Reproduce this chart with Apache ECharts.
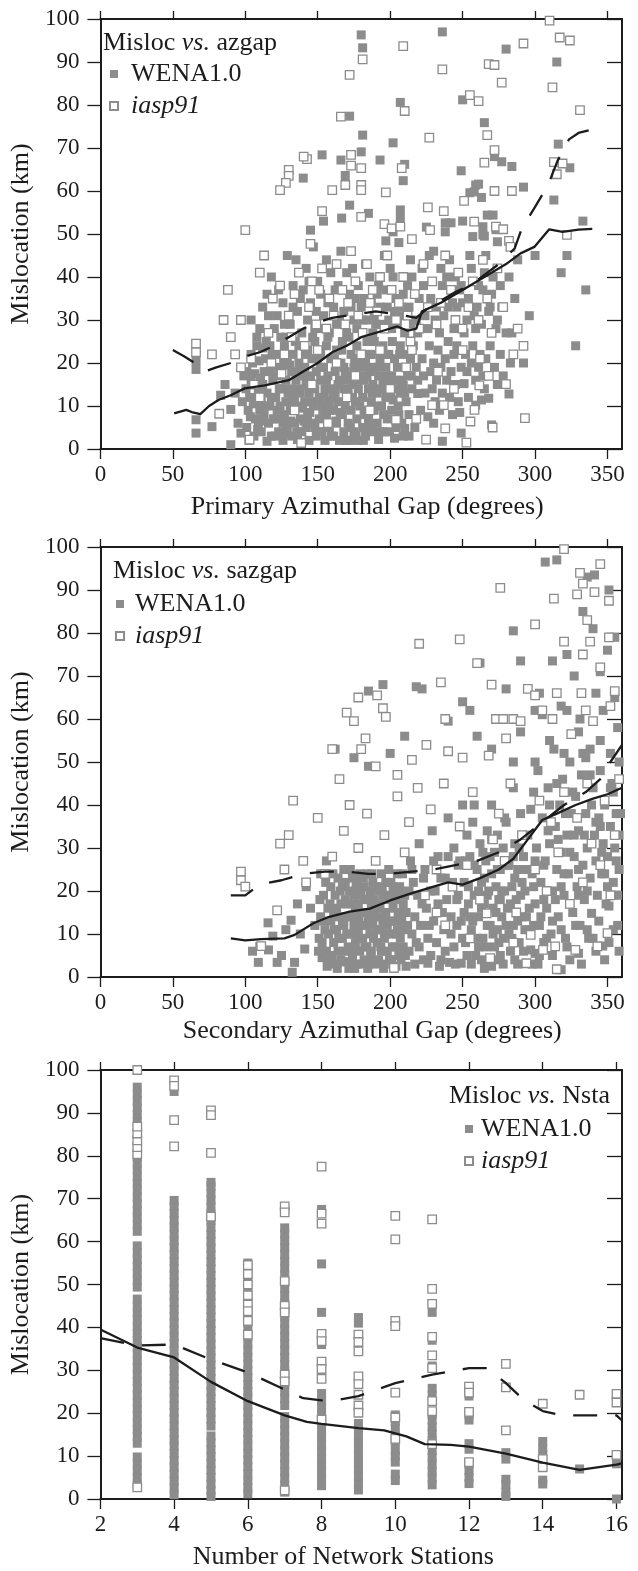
<!DOCTYPE html>
<html>
<head>
<meta charset="utf-8">
<script src="https://cdn.jsdelivr.net/npm/echarts@6/dist/echarts.min.js"></script>
<style>
html,body{margin:0;padding:0;background:#fff}
#chart{width:638px;height:1571px}
</style>
</head>
<body>
<div id="chart"></div>
<script>
// ---------- Panel 1: mislocation vs. primary azimuthal gap ----------
const azWena = [
 [180,96.3],[181,93.3],[236,97],[280,93],[315,90],[207,80.6],[250,81.2],[172,77.4],[181,73],[202,71.2],[265,75.9],[316,70.9],
 [272,68],[277,66.8],[284,65.7],[249,64.7],[292,60.9],[259,61.4],[261,61.6],[255,59.6],[258,59.8],[263,58.5],[193,67.2],[210,66.2],
 [209,62.4],[180,69.1],[166,67.2],[169,63.6],[153,68.4],[140,63],[172,56.7],[154,53],[166.5,53.7],[185,54.8],[207,55.6],[207,53.7],
 [202,50.5],[197,48.4],[225,51.6],[238,52.6],[242,52.6],[238,50.5],[250,53],[264,51.7],[264,49.8],[273,51],[267,54.4],[271,54.4],
 [257,49.4],[265,49.5],[274,48.2],[145,50.9],[324,65.4],[313,57.9],[333,53],[328,24],[335,37],[322,45],[318,41],[300,45],
 [104,30],[108,26],[112,33],[115,36],[118,40],[120,28],[122,31],[126,34],[128,26],[129,45],[131,29],[133,38],[135,44],[136,32],
 [139,27],[140,37],[142,42],[143,30],[145,34],[147,47],[148,28],[150,39],[152,36],[154,31],[156,44],[158,27],[159,41],[161,33],
 [163,29],[164,38],[166,46],[168,32],[170,27],[172,36],[174,42],[175,30],[177,28],[178,38],[180,33],[182,35],[184,30],[186,40],
 [188,27],[189,31],[191,36],[192,38],[194,29],[196,45],[198,33],[199,30],[201,28],[202,40],[204,35],[206,48],[207,31],[208,33],
 [210,27],[212,38],[214,44],[216,29],[218,30],[220,35],[222,42],[224,31],[226,28],[228,35],[230,46],[232,33],[234,27],[236,38],
 [237,31],[239,40],[241,44],[243,34],[244,28],[246,33],[248,37],[249,38],[251,27],[253,30],[254,35],[256,42],[258,31],[259,28],
 [261,38],[263,29],[264,37],[266,45],[268,32],[269,33],[271,40],[273,28],[274,30],[276,38],[280,27],[284,27],[286,35],[288,44],[296,31],
 [110,28],[116,31],[123,37],[127,29],[133,33],[138,35],[144,39],[149,32],[153,28],[157,34],[162,37],[165,30],[170,41],[173,33],
 [176,35],[181,30],[183,43],[187,34],[190,29],[193,33],[197,37],[200,42],[203,32],[205,29],[209,36],[213,33],[215,40],[219,27],
 [223,38],[227,45],[231,30],[235,42],[240,33],[245,40],[250,34],[255,45],[260,33],[265,41],[270,36],[277,33],[282,40],
 [66,6.8],[66,3.7],[66,20.5],[66,18.5],[77,5.2],[83,12.5],[90,1],[90,9.2],[97,3.7],[86,15],[93,13],[95,6],[98,11],[99,17],
 [101,5],[102,9],[103,12],[104,16],[105,20],[106,3],[107,7],[108,24],[109,13],[101,18],[104,22],[107,10.5],[109,6],
 [100.5,14],[102.5,2],[103.5,7.5],[105.5,11],[106.5,17.5],[108.5,4.5],[109.5,20.5],[110,9],
 [111,4],[111,11],[112,15],[113,18],[113,8],[114,21],[115,13],[116,6],[117,24],[117,10],[118,3],[119,16],[119,19],[112,23.5],[115,1.8],
 [110.5,16.5],[112,6.5],[114,10],[114.5,25],[116.5,18],[118,12],[119.5,7],[118.5,22],
 [121,7],[121,12],[122,17],[123,4],[123,22],[124,10],[125,14],[125,19],[126,2],[127,8],[127,24],[128,16],[128,11],[129,5],[129,20],
 [120.5,3],[122,9],[123.5,14],[124.5,26],[126,6],[126.5,21],[128,3.5],[129.5,13],
 [131,9],[131,14],[132,3],[132,18],[133,22],[134,6],[134,12],[135,16],[136,2.2],[136,10],[137,20],[137,24],[138,7],[138,13],[139,4],[139,17],
 [130.5,19.5],[131.5,6.5],[133,11],[134.5,25],[135.5,4],[136.5,14],[138,18.5],[139.5,9.5],
 [141,11],[141,19],[142,5],[142,15],[143,23],[143,8],[144,2],[144,13],[145,17],[146,21],[146,6],[147,10],[148,14],[148,25],[149,3],[149,18],
 [140.5,6.5],[141.5,22],[143,16],[144.5,8.5],[145.5,11],[146.5,26],[148,5],[149.5,21],[150,11],
 [151,7],[151,12],[152,16],[152,22],[153,4],[153,10],[154,19],[155,14],[155,2],[156,24],[156,8],[157,17],[158,5],[158,11],[159,21],[159,14],
 [150.5,4],[152,19],[153.5,8],[154.5,12],[156,16],[157,26],[158,9],[159.5,3],
 [161,3],[161,9],[162,13],[162,18],[163,23],[163,6],[164,11],[165,16],[165,2],[166,20],[167,8],[167,25],[168,14],[168,4],[169,10],[169,18],
 [160.5,12],[161.5,21],[162.5,6.5],[164,15],[165.5,8.5],[166.5,23],[168,19],[169.5,2],
 [171,6],[171,13],[172,17],[172,2],[173,22],[173,9],[174,15],[175,4],[175,19],[176,11],[177,24],[177,7],[178,14],[178,2],[179,17],[179,21],
 [170.5,16],[171.5,26],[172.5,5],[174,12],[175.5,21],[176.5,3],[177.5,16],[179,10],
 [181,5],[181,12],[182,16],[182,9],[183,20],[183,3],[184,25],[185,14],[185,7],[186,18],[187,11],[187,22],[188,4],[188,15],[189,9],[189,19],
 [180.5,19],[181.5,2],[183,8],[184,17],[185.5,22],[186.5,5],[187.5,13],[189,25],
 [191,13],[191,6],[192,2.2],[192,17],[193,21],[194,10],[195,15],[195,24],[196,4],[197,12],[197,19],[198,7],[199,16],[199,22],
 [190.5,10],[191.5,19],[193,4],[194,14],[195.5,8],[196.5,22],[198,17],[199.5,4],
 [201,9],[201,17],[202,11.4],[203,14],[203,21],[204,5],[205,19],[206,8],[207,13],[207,24],[208,16],[209,14.8],[209,3],[210,4.8],
 [200.5,13],[201.5,25],[203,2.5],[204,16],[205.5,10],[206.5,22],[208,6],[210,13],[212,22],[213,3],[214.5,17],
 [211,11],[212,17],[213,8],[214,21],[215,14],[216,24],[217,5],[218,19],[219,12.9],[219,16],
 [221,9],[222,21],[223,17],[224,13],[226,7.5],[227,24],[228,18],[229,14],[230,6],[230,20],
 [231,11],[232,16],[233,23],[234,9],[235,19],[236,1.8],[236,13],[238,21],[239,16],[240,25],
 [241,12],[242,18],[243,8],[244,22],[245,15],[246,24],[247,11],[248,8.5],[249,3.7],[249,19],
 [251,15.2],[252,22],[253,18],[254,12],[256,20],[257,24],[259,10.2],[259,16],
 [261,19],[262,22],[263,11.4],[264,17],[265,14],[266,21],[268,11.8],[269,24],[270,5.6],
 [272,19],[274,15],[276,22],[278,17],[282,12.8],[283,20],[292,20]
];
const azIasp = [
 [181,90.6],[172,87],[209,93.7],[236,88.3],[292,94.3],[310,99.6],[317,95.7],[324,95],[312,84.1],[331,78.8],[268,89.5],[272,89.3],
 [277,85.2],[255,82.3],[261,80.9],[210,78.6],[166,77.3],[227,72.4],[267,73],[313,66.7],[315,63.9],[319,66.4],[272,69.5],[265,66.6],
 [284,60],[272,60],[251,57.7],[208,65.3],[197,59.7],[173,68.4],[180,65.3],[173,65.9],[169,61.4],[180,61.4],[180,60.2],[160,60.2],
 [142.6,67.4],[140.3,68],[130,64.9],[130,63.5],[128,61.9],[124,60.2],[153,55.3],[180,54],[196,52.3],[201,51.3],[207,51.7],[215,48.8],
 [226,56.2],[227.5,50.9],[237,55.3],[258,52.9],[273,51.7],[278,51.1],[282,48.4],[145,47.7],[100,50.9],[322,49.8],
 [66,24.5],[66,22.5],[77,22],[90,26],[88,37],[85,30],[93,22],[97,30],[104,21],[110,41],[113,45],[116,27],[119,35],[124,38],
 [127,22],[130,31],[132,26],[134,36],[137,41],[141,24],[144,33],[146,39],[149,29],[151,37],[153,42],[156,28],[158,35],[161,31],
 [163,43],[167,37],[169,29],[171,34],[173,46],[176,39],[178,31],[181,27],[184,43],[186,34],[188,37],[191,32],[193,40],[196,28],
 [198,45],[201,37],[204,30],[206,34],[209,40],[212,31],[214,25],[217,36],[220,28],[223,43],[226,33],[229,39],[232,29],[235,34],
 [238,45],[242,37],[245,30],[247,41],[250,28],[254,33],[257,39],[261,30],[264,44],[267,35],[270,27],[274,42],[278,33],[283,47],
 [288,28],[292,24],
 [82,8.2],[103,2.2],[138.6,1.4],[224.8,2.2],[238,4.8],[237,10.2],[252.6,1.5],[255.4,6.4],[258.2,9.1],[261.5,14.8],[270.7,5],
 [279.9,15.1],[293,7.2],[229,10.2],[204,6.8],[110,12],[125,17.5],[134,9],[146,15],[157,6],[163,20],[170,12],[176,17],[186,9],
 [193,23],[200,14],[211,19],[218,7],[233,18],[244,14],[262,21],[268,17],[285,22],[250,23],[106,15],[118,20],[97,19],[150,23],
 [180,22],[215,23]
];
const azSolid = [[50.9,8.3],[59.3,9.1],[63,8.6],[69,8.1],[75,10],[81.5,11.4],[89.9,12.5],[99.6,14.1],[113.5,14.8],[130,16],
 [140,18],[150,20],[160,22.5],[170,24],[180,26],[195,27.5],[205,28.5],[212,27.5],[218,28],[222,32],[235,34],[250,37],[265,40],
 [280,43],[290,45.5],[299.5,47],[309.8,51.1],[319,50.5],[330,51],[339.5,51.2]];
const azDashed = [[50,23],[58,21.5],[65,20],[72,18],[80,19],[90,20],[100,21.5],[110,22.5],[120,24],[130,26],[140,28],[150,29.5],
 [160,30.5],[170,31],[180,31.5],[190,32],[200,31.5],[210,31],[218,30.5],[225,32.5],[235,34.5],[245,36.5],[255,38],[265,40.5],
 [275,43],[286,46.7],[290.5,51],[300,56.3],[309,61.4],[315.5,67],[323.4,72],[330,73.5],[339,74.3]];

// ---------- Panel 2: mislocation vs. secondary azimuthal gap ----------
const sazWena = [
 [307,96.5],[315,97],[336,93],[341,93.5],[351,90],[333,85],[340,81],[285,80.5],[290,73.5],[312,73.5],[322,75],[350,76],[355,79],
 [345,71],[262,73],[185,66.5],[195,68],[218,67.5],[222,67],[240,59.5],[250,64],[255,62],[280,67],[300,62],[305,61],[290,57],
 [310,55],[322,62],[330,57],[342,66],[355,65],[345,55],[352,52],[320,52],[335,51],[260,56],[270,53],[300,50],[285,50],[210,56],
 [200,52],[185,49],[162,53],[175,51],[303,66],[318,63],[327,70],[347,62],[357,58],[331,60],[338,53],
 [105,6],[110,7.1],[109,3.4],[115.7,12.6],[116,6.3],[122,3.4],[131.6,13.2],[132.4,1.1],[134,3.4],[141,6.5],[138,10],[145,16],
 [148,12],[142,21],[136,17],[128,11],[119,9.5],[125,5],
 [151,9],[152,14],[153,4.5],[154,19],[155,11],[156,6],[157,16],[158,4],[159,21],[159,13],[152,24],[156,27],
 [161,8],[161,15],[162,3],[162,19],[163,11],[164,23],[164,6],[165,14],[166,17],[166,4],[167,9],[167,21],[168,12],[168,25],[169,3.5],[169,18],
 [171,7],[171,14],[172,20],[172,3.5],[173,10],[173,17],[174,23],[174,5],[175,12],[175,19],[176,8],[176,15],[177,22],[177,3],[178,11],[178,17],[179,6],[179,24],
 [181,9],[181,15],[182,21],[182,4],[183,12],[183,18],[184,7],[184,24],[185,14],[185,3],[186,10],[186,20],[187,16],[187,6],[188,12],[188,22],[189,3.5],[189,18],
 [191,8],[191,14],[192,20],[192,4],[193,11],[193,17],[194,24],[194,6],[195,13],[195,19],[196,9],[196,3],[197,15],[197,22],[198,6],[198,12],[199,18],[199,25],
 [201,4],[201,10],[202,16],[202,21],[203,7],[203,13],[204,2.5],[204,19],[205,11],[205,24],[206,5],[206,15],[207,9],[207,20],[208,13],[209,7],[209,17],
 [150.5,6],[151.5,18],[153,8],[154,13],[155.5,22],[156.5,2.5],[157.5,10],[158.5,17],[160,5],[160.5,24],[161.5,11],[163,16],[163.5,2],
 [164.5,9],[165.5,20],[167,13],[168,6],[169,22],[170,10],[170.5,17],[171.5,2],[172.5,25],[173.5,6],[174.5,14],[175.5,2],[176.5,21],
 [177.5,9],[178.5,14],[179.5,19],[180,3],[180.5,12],[181.5,23],[182.5,7],[183.5,15],[184.5,2],[185.5,18],[186.5,5],[187.5,24],
 [188.5,9],[189.5,14],[190,21],[190.5,3],[191.5,11],[192.5,16],[193.5,7],[194.5,21],[195.5,2],[196.5,14],[197.5,10],[198.5,19],
 [199.5,4],[200,13],[200.5,22],[201.5,7],[202.5,2],[203.5,18],[204.5,10],[205.5,15],[206.5,21],[207.5,4],[208.5,24],[209.5,11],
 [210,19],[210.5,5],
 [211,2.5],[211,15],[213,6],[213,20],[215,10],[215,25],[217,3],[217,14],[219,19],[220,7],[221,12],[223,23],[223,4],[225,16],
 [226,9],[228,20],[228,5],[230,13],[230,27],[232,8],[233,17],[234,2.5],[235,23],[237,11],[238,6],[239,18],[240,28],[242,14],
 [243,22],[244,7],[245,3],[246,12],[247,19],[248,27],[250,9],[251,15],[253,5],[254,21],[256,3],[257,13],[258,26],[260,9],
 [261,20],[263,4],[263,16],[265,23],[266,7],[267,19],[269,28],[270,2.5],[271,10],[273,15],[274,25],[275,8],[277,20],[278,3],
 [280,12],[281,26],[283,17],[284,9],[286,4],[286,23],[288,13],[289,30],[290,19],[292,6],[293,11],[294,25],[296,16],[298,3],
 [299,12],[299,21],
 [212,12],[214,27],[216,22],[218,8],[220,31],[222,17],[224,25],[226,3.2],[227,12],[229,34],[231,20],[233,28],[235,4],[236,15],
 [238,23],[240,37],[241,3.4],[242,10],[244,30],[246,18],[247,26],[249,3.2],[249,13],[250,40],
 [251,22],[252,8],[253,33],[254,17],[255,28],[256,11],[257,36],[258,19],[259,5],[260,25],[261,14],[262,31],[263,22],[264,9],
 [265,2],[265,17],[266,27],[267,34],[268,3],[268,20],[269,12],[270,24],[270,40],[271,16],[272,7],[272,29],[273,21],[274,11],
 [274,33],[275,18],[276,5],[276,25],[277,14],[278,30],[278,9],[279,20],[280,36],[281,16],[282,26],[283,6],[284,21],[285,12],
 [285,44],[286,31],[287,18],[288,25],[289,8],[290,38],[291,14],[292,28],[293,20],[295,33],[296,11],[297,6.3],[298,24],[299,43],
 [300,5.5],[300,17],
 [252,27],[255,14],[258,40],[261,7],[264,29],[267,12],[270,32],[273,4],[276,18],[279,37],[282,10],[285,28],[288,3],[291,22],
 [294,14],[297,39],[300,27],[303,5],[306,18],[309,34],[312,13],[315,45],[318,21],[321,38],[324,4],[327,33],[330,19],[333,52],
 [336,11],[339,40],[342,6],[345,35],[348,24],[351,8],[354,43],[357,19],[358,33],
 [302,3],[304,14],[306,26],[308,9],[310,40],[312,5],[314,18],[316,32],[318,11],[320,24],[322,7],[324,29],[326,43],[328,12],
 [330,25],[332,3],[334,33],[336,20],[338,47],[340,9],[342,36],[344,13],[346,29],[348,4],[350,21],[352,44],[354,11],[356,27],
 [358,6],[359,38],
 [301,30],[302,48],[303,12],[304,22],[305,37],[306,8],[307,27],[308,16],[309,44],[310,31],[311,10],[312,20],[313,53],[314,35],
 [315,25],[316,14],[317,40],[318,1.7],[318,29],[319,46],[320,19],[321,9],[322,33],[323,24],[324,50],[325,38],[326,15],[327,28],
 [328,42],[329,21],[330,5.5],[330,34],[331,12],[332,47],[333,26],[334,18],[335,38],[336,30],[337,9],[338,23],[339,14.8],[340,44],
 [341,33],[342,27],[343,19],[344,37],[345,48],[346,24],[346.7,7.2],[347,31],[348,40],[349,17],[350,28],[351,16.5],[352,35],
 [353,45],[354,22],[355,30],[356,38],[357,12],[358,25],[358,50]
];
const sazIasp = [
 [320,99.5],[345,96],[331,94],[333,91.5],[329,89],[341,89.5],[351,87.5],[313,88],[276,90.5],[336,83],[300,82],[338,78],[351,79],
 [333,75],[345,72],[320,78],
 [220,77.5],[248,78.5],[235,68.5],[260,73],[270,68],[273,60],[278,60],[285,60],[290,59.5],[295,67],[300,65.5],[305,62],[312,60],
 [325,56.5],[332,66],[335,62],[340,59.5],[352,63],[355,66.5],[315,66],[280,55.5],[268,51.5],[250,51],[238,60],[240,52.5],[225,54],
 [215,50.5],[195,62.5],[197,60.5],[191,65.5],[178,65],[170,61.5],[175,59.5],[183,55.5],[180,53],[160,53],[190,49],[205,47],
 [97,24.5],[97,22.5],[100,21],[111,7.2],[122,15.5],[127,25],[124,31],[133,41],[140,27],[142,22],[155,24],[165,46],[172,40],
 [150,37],[130,33],[160,28],[168,34],[178,30],[184,38],[190,27],[196,33],[202.6,2.1],[205,42],[210,29],[213,36],[219,44],
 [224,19],[228,39],[232,25],[237,45],[243,21],[248,35],[253,26],[257,43],[262,18],[266.6,14.8],[269,4.4],[271,32],[275,38],
 [279,27],[283,45],[287,15],[291,33],[294,3.2],[297,9.8],[300,25],[303,41],[305.5,6.3],[308,20],[311,36],[313.9,7.1],[315,1.8],
 [316,29],[320,43],[324,17],[327.8,6.3],[329,37],[333,22],[336,45],[339,31],[343,7.1],[345,26],[348,41],[350,10.2],[352,19],
 [355,33],[358,46],[238,12],[255,9],[285,8],[232,15]
];
const sazSolid = [[90,9],[100,8.5],[111,8.8],[127,9],[134,9.8],[147,12.5],[158,14],[172,15.2],[186,15.9],[200,17.8],[215,19.5],
 [230,21],[240,22],[250,21.5],[262,23],[275,25],[285,27.5],[295,32],[305,36.5],[315,38],[328,40],[340,41.5],[350,42.5],[360,44]];
const sazDashed = [[90,19],[100,19],[110,21.5],[125,22.5],[140,24],[155,24.5],[170,24.5],[185,24],[200,24],[215,24.5],[230,25],
 [245,26],[260,27],[275,29],[290,32],[305,36],[320,40],[335,43],[345,46],[352,50],[360,54]];

// ---------- Panel 3: mislocation vs. number of network stations ----------
const nstaStations = [3,4,5,6,7,8,9,10,11,12,13,14,15,16];
const nstaWenaY = [
 [3.5,5,6.6,8.2,9.8,13,14.6,16.2,17.8,19.4,21,22.6,24.2,25.8,27.4,29,30.6,32.2,33.8,35.4,37,38.6,40.2,41.8,43.4,45,46.6,49.4,51,
  52.6,54.2,55.8,57.4,59,62.4,64,65.6,67.2,68.8,70.4,72,73.6,75.2,76.8,78.4,79.6,88,89.6,91.2,92.8,94.4,96],
 [1,2.6,4.2,5.9,7.4,9,10.6,12.3,13.8,15.4,17,18.7,20.2,21.8,23.4,25,26.6,28.1,29.8,31.4,33,34.6,36.2,37.8,39.4,41,42.6,44.2,45.8,
  47.4,49,50.6,52.2,53.8,55.4,57,58.6,60.2,61.8,63.4,65,66.6,68.2,69.6,95],
 [0.6,2,3.5,5.1,6.7,8.3,9.9,11.5,13.1,14.7,17,18.6,20.2,21.8,23.4,25,26.5,28.1,29.7,31.3,32.9,34.5,36.1,37.7,39.3,40.9,42.5,44.1,
  45.7,47.3,48.9,50.5,52.1,53.7,55.3,56.9,58.5,60.1,61.7,63.3,64.9,66.5,68.1,69.7,71.3,72.9,73.8],
 [1.2,2.6,4.3,5.9,7.5,9.1,10.7,12.3,13.9,15.5,17.1,18.7,20.3,21.9,23.5,25.1,26.7,28.3,29.9,31.5,33.1,34.7,36.3,37.9,39.5,41.1,
  42.7,44.3,45.9,47.5,49.1,50.7,52.3,53.9,55],
 [1.6,3.2,4.8,6.4,8,9.6,11.2,12.8,14.4,16,17.6,19.2,21.8,23.4,25,26.6,28.2,29.8,31.4,33,34.6,36.2,37.8,39.4,41,42.6,44.2,45.8,
  47.4,49,50.6,52.2,53.8,55.4,57,58.6,60.2,61.8,63.2,67.5],
 [3.1,4.7,6.3,7.9,9.5,11.1,12.7,14.3,15.9,17.5,19.8,21.4,23,24.6,36,43.5,54.8,67.5],
 [2.1,3.7,5.3,6.9,8.5,10.1,11.7,13.3,14.9,16.5,17.6,41,42.3],
 [4.3,5.8,8.6,10,11.2,13.2,14.8,16.4,18,19.6],
 [3.3,4.9,6.5,8.1,9.7,11.3,13.6,15.2,16.8,18.4,19.8,24.2,25.8,31,37,43.5],
 [3.6,5,6.6,8.1,11.6,12.9,18.4,19.6,24,25.4],
 [0.6,1.6,3.4,4.6,9.3,10.8],
 [3.5,4.4,10.4,11.8,13.4],
 [7],
 [0,8.2]
];
const nstaIaspY = [
 [2.7,80.4,82,83.6,85.2,86.8,100],
 [97.6,96.3,88.3,82.2],
 [90.6,89.5,80.7,65.8],
 [54.5,52.4,50,47.5,45.3,43.8,41.5,38.3],
 [68.2,66.8,50.8,45,43.5,29,27.4,2],
 [77.5,66.5,64.2,38.5,36.8,32,30.3,28,18.5],
 [38.3,36.6,34.4,28.6,26.8,24.3,21.8,20.1],
 [66,60.5,41.5,40.3,24.8,19,14],
 [65.2,49,45.5,37.8,33.5,30.5,22.8,20.5,12.8],
 [26.2,24.8,20.3,8.6],
 [31.5,26,16],
 [22.2,7.4,9.3],
 [24.3],
 [24.5,22.5,10.3]
];
const nstaSolid = [[2,39.5],[3,35.3],[4,33],[5,27.3],[6,22.8],[7,19.5],[7.6,18],[8,17.5],[9,16.5],[9.7,16],[10.3,14.6],
 [10.8,12.8],[11.5,12.6],[12,12.2],[13,10.6],[14,8.5],[15,6.8],[16,8],[16.15,8.3]];
const nstaDashed = [[2,37.5],[3,35.8],[4,36],[5,32.5],[6,29.5],[7,25.5],[7.5,23.5],[8,23],[8.5,23.2],[9,24],[10,27],[11,29],
 [12,30.5],[12.5,30.5],[13,27],[13.5,23],[14,20.5],[14.5,19.5],[15,19.5],[15.5,19.5],[16,19.5],[16.15,18.3]];

const gapTicks = [0,50,100,150,200,250,300,350];
const nstaTicks = [2,4,6,8,10,12,14,16];

function columnsToPoints(stations, cols) {
  const out = [];
  stations.forEach((s, i) => cols[i].forEach(y => out.push([s, y])));
  return out;
}
const nstaWena = columnsToPoints(nstaStations, nstaWenaY);
const nstaIasp = columnsToPoints(nstaStations, nstaIaspY);

// ---------- styling ----------
const FONT = 'Liberation Serif';
const INK = '#1c1c1c';
const GREY = '#8c8c8c';

const panels = [
  { grid: {left: 95, top: 19, width: 527, height: 430}, xMin: 0, xMax: 360, xInt: 50, xTicks: gapTicks,
    xName: 'Primary Azimuthal Gap (degrees)', xNamePad: [0, 0, 0, 12], xNameGap: 45,
    wena: azWena, iasp: azIasp, solid: azSolid, dashed: azDashed,
    head: 'azgap', headPos: {left: 103, top: 30}, legendPos: {left: 109, top: 61}, textPad: 8 },
  { grid: {left: 95, top: 547, width: 527, height: 430}, xMin: 0, xMax: 360, xInt: 50, xTicks: gapTicks,
    xName: 'Secondary Azimuthal Gap (degrees)', xNamePad: [0, 0, 0, 22], xNameGap: 41,
    wena: sazWena, iasp: sazIasp, solid: sazSolid, dashed: sazDashed,
    head: 'sazgap', headPos: {left: 113, top: 558}, legendPos: {left: 115, top: 591}, textPad: 6 },
  { grid: {left: 92, top: 1070, width: 530, height: 432}, xMin: 2, xMax: 16.15, xInt: 2, xTicks: nstaTicks,
    xName: 'Number of Network Stations', xNamePad: [0, 36, 0, 0], xNameGap: 45,
    wena: nstaWena, iasp: nstaIasp, solid: nstaSolid, dashed: nstaDashed,
    head: 'Nsta', headPos: {right: 28, top: 1083}, legendPos: {left: 464, top: 1116}, textPad: 3 }
];

const option = {
  animation: false,
  backgroundColor: '#fff',
  grid: [], xAxis: [], yAxis: [], series: [], legend: [], title: []
};

const lineAxis = {show: true, onZero: false, lineStyle: {color: INK, width: 2}};
const plain = {fontSize: 26, fontFamily: FONT, color: INK, fontWeight: 'normal'};

panels.forEach((p, g) => {
  option.grid.push(Object.assign({containLabel: false}, p.grid));
  const labelFmt = v => (p.xTicks.indexOf(v) >= 0 ? String(v) : '');
  option.xAxis.push({
    gridIndex: g, type: 'value', position: 'bottom', min: p.xMin, max: p.xMax, interval: p.xInt,
    axisLine: lineAxis,
    axisTick: {show: true, inside: false, length: 10, customValues: p.xTicks, lineStyle: {color: INK, width: 1.3}},
    axisLabel: {margin: 14, fontSize: 23, fontFamily: FONT, color: INK, customValues: p.xTicks, formatter: labelFmt},
    splitLine: {show: false},
    name: p.xName, nameLocation: 'middle', nameGap: p.xNameGap,
    nameTextStyle: Object.assign({padding: p.xNamePad}, plain)
  });
  option.xAxis.push({
    gridIndex: g, type: 'value', position: 'top', min: p.xMin, max: p.xMax, interval: p.xInt,
    axisLine: lineAxis,
    axisTick: {show: true, inside: false, length: 8, customValues: p.xTicks, lineStyle: {color: INK, width: 1.3}},
    axisLabel: {show: false}, splitLine: {show: false}
  });
  option.yAxis.push({
    gridIndex: g, type: 'value', position: 'left', min: 0, max: 100, interval: 10,
    axisLine: lineAxis,
    axisTick: {show: true, inside: false, length: 13, lineStyle: {color: INK, width: 1.3}},
    axisLabel: {margin: 21, fontSize: 23, fontFamily: FONT, color: INK},
    splitLine: {show: false},
    name: 'Mislocation (km)', nameLocation: 'middle', nameGap: 51, nameRotate: 90,
    nameTextStyle: plain
  });
  option.yAxis.push({
    gridIndex: g, type: 'value', position: 'right', min: 0, max: 100, interval: 10,
    axisLine: lineAxis,
    axisTick: {show: true, inside: true, length: 15, lineStyle: {color: INK, width: 1.3}},
    axisLabel: {show: false}, splitLine: {show: false}
  });

  const xi = 2 * g, yi = 2 * g;
  option.series.push({
    type: 'scatter', name: 'WENA1.0', xAxisIndex: xi, yAxisIndex: yi, data: p.wena,
    symbol: 'rect', symbolSize: 9, itemStyle: {color: GREY, opacity: 1}, z: 2, silent: true
  });
  option.series.push({
    type: 'scatter', name: 'iasp91', xAxisIndex: xi, yAxisIndex: yi, data: p.iasp,
    symbol: 'rect', symbolSize: 8.5, itemStyle: {color: '#ffffff', borderColor: GREY, borderWidth: 1.3, opacity: 1},
    z: 3, silent: true
  });
  option.series.push({
    type: 'line', name: 'WENA1.0 median', xAxisIndex: xi, yAxisIndex: yi, data: p.solid,
    showSymbol: false, symbol: 'none', lineStyle: {color: INK, width: 2.3}, z: 5, silent: true
  });
  option.series.push({
    type: 'line', name: 'iasp91 median', xAxisIndex: xi, yAxisIndex: yi, data: p.dashed,
    showSymbol: false, symbol: 'none', lineStyle: {color: INK, width: 2.3, type: [24, 18]}, z: 5, silent: true
  });

  option.title.push(Object.assign({
    text: '{n|Misloc }{i|vs.}{n| ' + p.head + '}',
    textStyle: Object.assign({
      rich: {
        n: plain,
        i: Object.assign({fontStyle: 'italic'}, plain)
      }
    }, plain),
    padding: 0
  }, p.headPos));

  option.legend.push(Object.assign({
    data: ['WENA1.0', 'iasp91'], orient: 'vertical', selectedMode: false,
    itemWidth: 8, itemHeight: 8, itemGap: 6, padding: 0,
    formatter: name => (name === 'iasp91' ? '{it|iasp91}' : '{n|WENA1.0}'),
    textStyle: Object.assign({
      padding: [0, 0, 0, p.textPad],
      rich: {
        n: plain,
        it: Object.assign({fontStyle: 'italic'}, plain)
      }
    }, plain)
  }, p.legendPos));
});

const chart = echarts.init(document.getElementById('chart'), null, {renderer: 'canvas'});
chart.setOption(option);
</script>
</body>
</html>
